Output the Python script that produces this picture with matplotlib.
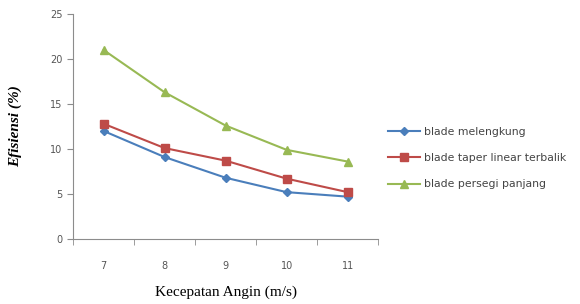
import numpy as np
import matplotlib
matplotlib.use("Agg")
import matplotlib.pyplot as plt

kecepatan = ["7", "8", "9", "10", "11"]
melengkung = [12.0, 9.1, 6.8, 5.2, 4.7]
taper = [12.8, 10.1, 8.7, 6.7, 5.2]
persegi = [21.0, 16.3, 12.6, 9.9, 8.6]
names = ["blade melengkung", "blade taper linear terbalik", "blade persegi panjang"]

fig = plt.figure(figsize=(5.8, 3.04), dpi=100)
ax = fig.add_axes([0.126, 0.214, 0.526, 0.74])
x = np.arange(len(kecepatan))
grey = "#8c8c8c"

ax.plot(x, melengkung, color="#4a7ebb", lw=1.5, marker="D", ms=4.5, label=names[0])
ax.plot(x, taper, color="#be4b48", lw=1.5, marker="s", ms=6, label=names[1])
ax.plot(x, persegi, color="#98b954", lw=1.5, marker="^", ms=6, label=names[2])

ax.set_xlim(-0.5, len(kecepatan) - 0.5)
ax.set_ylim(0, 25)
ax.set_yticks([0, 5, 10, 15, 20, 25])
ax.set_xticks(x)
ax.set_xticklabels(kecepatan)
ax.set_xticks(np.arange(-0.5, len(kecepatan)), minor=True)
ax.tick_params(axis="x", which="major", length=0, pad=16, labelsize=7, colors="#555555")
ax.tick_params(axis="x", which="minor", length=4, color=grey, direction="out")
ax.tick_params(axis="y", length=4, color=grey, labelsize=7, labelcolor="#555555")
for s in ["top", "right"]:
    ax.spines[s].set_visible(False)
for s in ["left", "bottom"]:
    ax.spines[s].set_color(grey)

ax.set_xlabel("Kecepatan Angin (m/s)", family="Liberation Serif", fontsize=11, labelpad=10)
ax.set_ylabel("Efisiensi (%)", family="Liberation Serif", fontsize=11,
              fontweight="bold", style="italic", labelpad=20)

fig.legend(loc="center left", bbox_to_anchor=(0.652, 0.48), frameon=False,
           fontsize=7.8, handlelength=3.0, handletextpad=0.3, labelspacing=1.5,
           labelcolor="#444444")

plt.savefig("out.png", dpi=100, facecolor="white")
